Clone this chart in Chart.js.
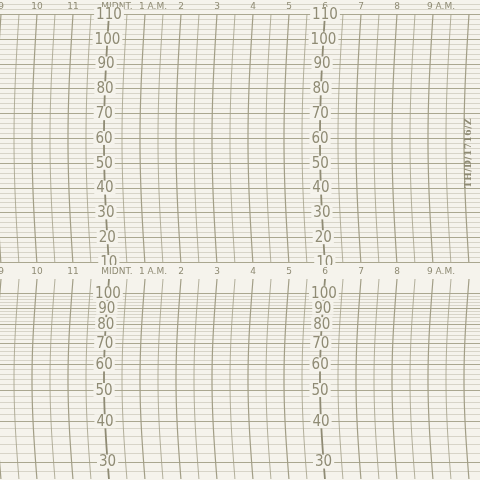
<!DOCTYPE html>
<html><head>
<script src="https://cdn.jsdelivr.net/npm/chart.js@4"></script>
<style>
body{margin:0;background:#f5f3ec;}
#top{position:absolute;left:0;top:0;width:480px;height:265px;}
#bot{position:absolute;left:0;top:265px;width:480px;height:215px;}
#code{position:absolute;left:463px;top:118px;writing-mode:vertical-rl;transform:rotate(180deg);font:bold 9px "DejaVu Serif";color:#8f8b74;letter-spacing:0.5px;}
</style>
</head><body>
<div id="top"><canvas id="c1"></canvas></div>
<div id="bot"><canvas id="c2"></canvas></div>
<div id="code">TH/D/1716/Z</div>
<script>
// hours relative to midnight
var hourTicks = [-3, -2, -1, 0, 1, 2, 3, 4, 5, 6, 7, 8, 9];
var hourLabels = ['9', '10', '11', 'MIDNT.', '1 A.M.', '2', '3', '4', '5', '6', '7', '8', '9 A.M.'];
var tempTicks = [110, 100, 90, 80, 70, 60, 50, 40, 30, 20, 10];
var humTicks = [100, 90, 80, 70, 60, 50, 40, 30];
var scaleColumns = [0, 6];

var ink = '#a29e86';
var labelInk = '#8f8b74';

function gridPlugin(valTicks, minorFrom, minorTo) {
  return {
    id: 'grid',
    afterDraw: function (chart) {
      var ctx = chart.ctx, xs = chart.scales.x, ys = chart.scales.y;
      var h = chart.height, bow = 5, y0 = 14;
      ctx.save();
      // horizontal minor lines every 2 units
      ctx.strokeStyle = ink;
      for (var v = minorFrom; v <= minorTo; v += 2) {
        var y = Math.round(ys.getPixelForValue(v)) + 0.5;
        ctx.lineWidth = (v % 10 === 0) ? 1 : 0.6;
        ctx.globalAlpha = (v % 10 === 0) ? 0.9 : 0.6;
        ctx.beginPath(); ctx.moveTo(0, y); ctx.lineTo(chart.width, y); ctx.stroke();
      }
      ctx.globalAlpha = 1;
      // curved time lines every half hour
      for (var t = -3.5; t <= 10.5; t += 0.5) {
        var x0 = xs.getPixelForValue(t);
        var heavy = scaleColumns.indexOf(t) >= 0;
        ctx.lineWidth = heavy ? 1.8 : (t % 1 === 0) ? 1.2 : 0.8;
        ctx.strokeStyle = heavy ? labelInk : ink;
        ctx.beginPath();
        for (var y = y0; y <= h; y += 4) {
          var f = (y - y0) / (h - y0);
          var x = x0 - bow * Math.sin(Math.PI * f);
          if (y === y0) ctx.moveTo(x, y); else ctx.lineTo(x, y);
        }
        ctx.stroke();
      }
      // hour labels
      ctx.fillStyle = labelInk;
      ctx.font = '9px "DejaVu Sans"';
      ctx.textBaseline = 'middle';
      ctx.textAlign = 'center';
      hourTicks.forEach(function (t, i) {
        var off = hourLabels[i].length > 3 ? 8 : 0;
        ctx.fillText(hourLabels[i], xs.getPixelForValue(t) + off, 7);
      });
      // value labels on the scale columns
      scaleColumns.forEach(function (c) {
        var xc = xs.getPixelForValue(c);
        valTicks.forEach(function (v) {
          var y = ys.getPixelForValue(v);
          var f = (y - y0) / (h - y0);
          var x = xc - bow * Math.sin(Math.PI * Math.max(0, Math.min(1, f)));
          ctx.font = '15px "DejaVu Sans Condensed"';
          var w = ctx.measureText(String(v)).width + 4;
          ctx.fillStyle = '#f5f3ec';
          ctx.fillRect(x - w / 2, y - 7, w, 14);
          ctx.fillStyle = labelInk;
          ctx.fillText(String(v), x, y + 1);
        });
      });
      ctx.restore();
    }
  };
}

function makeChart(id, yOpts, valTicks, mn, mx) {
  return new Chart(document.getElementById(id), {
    type: 'scatter',
    data: { datasets: [{ data: [], showLine: false }] },
    options: {
      responsive: true, maintainAspectRatio: false, animation: false,
      layout: { padding: 0 },
      plugins: { legend: { display: false }, tooltip: { enabled: false } },
      scales: {
        x: { type: 'linear', min: -3 - 1 / 36, max: -3 - 1 / 36 + 480 / 36, display: false },
        y: Object.assign({ display: false }, yOpts)
      }
    },
    plugins: [gridPlugin(valTicks, mn, mx)]
  });
}

makeChart('c1', { type: 'linear', min: 8.8, max: 115.6 }, tempTicks, 8, 114);
makeChart('c2', { type: 'logarithmic', min: 26.3, max: 122 }, humTicks, 26, 100);
</script>
</body></html>
